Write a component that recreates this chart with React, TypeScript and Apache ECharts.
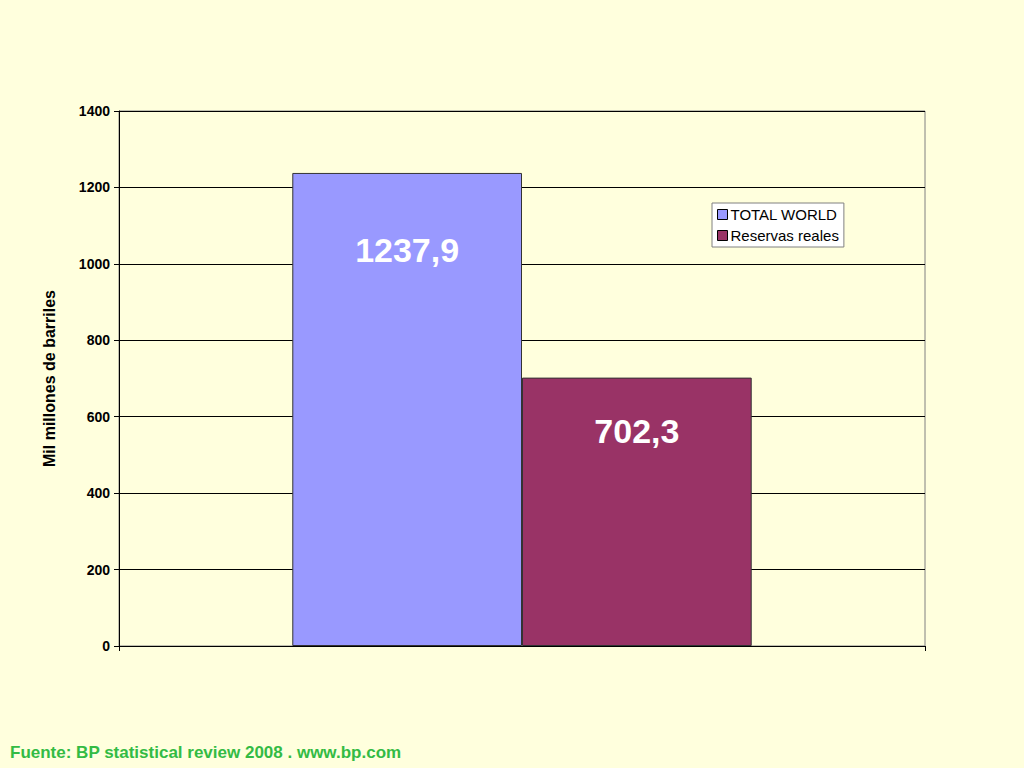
import React, { useEffect, useRef } from "react";
import * as echarts from "echarts";

const categories = [""];
const seriesNames = ["TOTAL WORLD", "Reservas reales"];
const totalWorld = [1237.9];
const reservasReales = [702.3];
const yTicks = { min: 0, max: 1400, interval: 200 };

const fmt = (v: number) => v.toFixed(1).replace(".", ",");

export default function App() {
  const ref = useRef<HTMLDivElement>(null);
  useEffect(() => {
    const chart = echarts.init(ref.current!, null, { renderer: "svg" });
    chart.setOption({
      animation: false,
      backgroundColor: "#FFFFDD",
      textStyle: { fontFamily: "Liberation Sans, Arial, sans-serif" },
      grid: {
        left: 119,
        right: 1024 - 925,
        top: 111,
        bottom: 768 - 646,
        show: true,
        borderColor: "#808080",
        borderWidth: 1,
        backgroundColor: "transparent",
      },
      legend: {
        orient: "vertical",
        left: 712,
        top: 203,
        padding: [4, 5, 4, 5],
        itemGap: 6,
        itemWidth: 10,
        itemHeight: 10,
        backgroundColor: "#FFFFFF",
        borderColor: "#808080",
        borderWidth: 1,
        borderRadius: 0,
        textStyle: { fontSize: 15, color: "#000", padding: [0, 0, 0, -2] },
        icon: "rect",
        itemStyle: { borderColor: "#000", borderWidth: 1 },
        data: seriesNames,
      },
      xAxis: {
        type: "category",
        data: categories,
        axisLine: { lineStyle: { color: "#000", width: 1 } },
        axisTick: { show: true, length: 5, lineStyle: { color: "#000" } },
        axisLabel: { show: false },
      },
      yAxis: {
        type: "value",
        min: yTicks.min,
        max: yTicks.max,
        interval: yTicks.interval,
        name: "Mil millones de barriles",
        nameLocation: "middle",
        nameGap: 62,
        nameTextStyle: { fontSize: 16, fontWeight: "bold", color: "#000" },
        axisLine: { show: true, lineStyle: { color: "#000" } },
        axisTick: { show: true, length: 5, lineStyle: { color: "#000" } },
        axisLabel: {
          fontSize: 14,
          fontWeight: "bold",
          color: "#000",
          margin: 9,
          formatter: (v: number) => String(v),
        },
        splitLine: { lineStyle: { color: "#000", width: 1 } },
      },
      series: [
        {
          name: seriesNames[0],
          type: "bar",
          data: totalWorld,
          barGap: "0%",
          barCategoryGap: "43%",
          itemStyle: { color: "#9999FF", borderColor: "#333", borderWidth: 1 },
          label: {
            show: true,
            position: "insideTop",
            distance: 60,
            formatter: (p: any) => fmt(p.value),
            color: "#FFFFFF",
            fontSize: 34,
            fontWeight: "bold",
          },
        },
        {
          name: seriesNames[1],
          type: "bar",
          data: reservasReales,
          itemStyle: { color: "#993366", borderColor: "#333", borderWidth: 1 },
          label: {
            show: true,
            position: "insideTop",
            distance: 36,
            formatter: (p: any) => fmt(p.value),
            color: "#FFFFFF",
            fontSize: 34,
            fontWeight: "bold",
          },
        },
      ],
      graphic: [
        {
          type: "text",
          left: 10,
          top: 744,
          style: {
            text: "Fuente: BP statistical review 2008 . www.bp.com",
            fill: "#33BB44",
            font: "bold 17px Liberation Sans, Arial, sans-serif",
          },
        },
      ],
    });
    return () => chart.dispose();
  }, []);
  return (
    <div
      ref={ref}
      style={{ position: "absolute", left: 0, top: 0, width: 1024, height: 768 }}
    />
  );
}
